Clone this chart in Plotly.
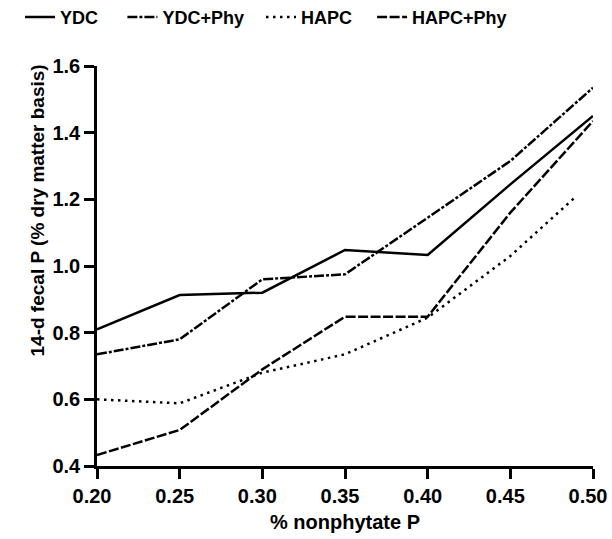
import plotly.graph_objects as go

# Data
x_levels = [0.20, 0.25, 0.30, 0.35, 0.40, 0.45, 0.50]
ydc = [0.81, 0.913, 0.92, 1.048, 1.033, 1.245, 1.45]
ydc_phy = [0.735, 0.78, 0.96, 0.975, 1.145, 1.315, 1.535]
hapc_x = [0.20, 0.25, 0.30, 0.35, 0.40, 0.45, 0.49]
hapc = [0.60, 0.588, 0.68, 0.735, 0.845, 1.03, 1.21]
hapc_phy = [0.433, 0.508, 0.69, 0.848, 0.848, 1.16, 1.435]

series_names = ["YDC", "YDC+Phy", "HAPC", "HAPC+Phy"]
x_ticks = [0.20, 0.25, 0.30, 0.35, 0.40, 0.45, 0.50]
y_ticks = [0.4, 0.6, 0.8, 1.0, 1.2, 1.4, 1.6]

FONT = "Arial, Liberation Sans, Helvetica, sans-serif"
LW = 2.5
BOLD = dict(family=FONT, color="black", weight="bold")

fig = go.Figure()
fig.add_trace(go.Scatter(x=x_levels, y=ydc, mode="lines", name=series_names[0],
                         legend="legend5",
                         line=dict(color="black", width=LW, dash="solid"),
                         cliponaxis=False))
fig.add_trace(go.Scatter(x=x_levels, y=ydc_phy, mode="lines", name=series_names[1],
                         legend="legend2",
                         line=dict(color="black", width=LW, dash="10px,2px,3px,2px"),
                         cliponaxis=False))
fig.add_trace(go.Scatter(x=hapc_x, y=hapc, mode="lines", name=series_names[2],
                         legend="legend3",
                         line=dict(color="black", width=LW, dash="2.5px,4.5px"),
                         cliponaxis=False))
fig.add_trace(go.Scatter(x=x_levels, y=hapc_phy, mode="lines", name=series_names[3],
                         legend="legend4",
                         line=dict(color="black", width=LW, dash="10px,2.5px"),
                         cliponaxis=False))

def leg(xpos, anchor="left"):
    return dict(orientation="h", xref="container", x=xpos, xanchor=anchor,
                yref="container", y=0.968, yanchor="middle",
                font=dict(size=18, **BOLD), bgcolor="rgba(0,0,0,0)",
                borderwidth=0, itemwidth=30)

fig.update_layout(
    width=612, height=539,
    margin=dict(l=97, r=19, t=66, b=73, autoexpand=False),
    paper_bgcolor="white", plot_bgcolor="white",
    font=dict(size=20, **BOLD),
    showlegend=True,
    legend5=leg(0.17, "right"),
    legend2=leg(0.2, "left"),
    legend3=leg(0.4265, "left"),
    legend4=leg(0.608, "left"),
    xaxis=dict(range=[0.2, 0.5], tickvals=x_ticks, tickformat=".2f",
               showline=True, linecolor="black", linewidth=2.5,
               ticks="outside", ticklen=10, tickwidth=2.5, tickcolor="black",
               showgrid=False, zeroline=False, automargin=False,
               ticklabeloverflow="allow", ticklabelshift=-5,
               tickfont=dict(size=20, **BOLD),
               title=dict(text="% nonphytate P", standoff=10,
                          font=dict(size=20, **BOLD))),
    yaxis=dict(range=[0.4, 1.6], tickvals=y_ticks, tickformat=".1f",
               showline=True, linecolor="black", linewidth=2.5,
               ticks="outside", ticklen=10, tickwidth=2.5, tickcolor="black",
               showgrid=False, zeroline=False, automargin=False,
               tickfont=dict(size=20, **BOLD)),
    annotations=[dict(text="14-d fecal P (% dry matter basis)", textangle=-90,
                      xref="paper", yref="paper", x=-0.12, y=1.01,
                      xanchor="center", yanchor="top", showarrow=False,
                      font=dict(size=19, **BOLD))],
)

fig.write_html("out.html", config={"displayModeBar": False},
               post_script="document.body.style.margin='0';document.body.style.overflow='hidden';")
